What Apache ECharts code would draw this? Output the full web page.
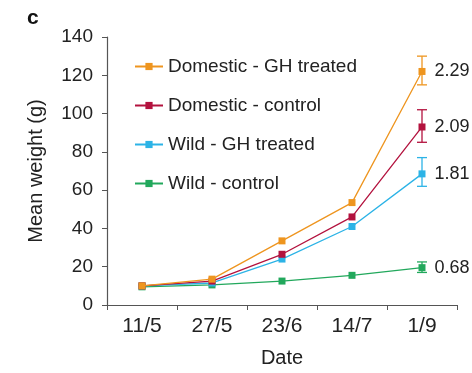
<!DOCTYPE html>
<html>
<head>
<meta charset="utf-8">
<script src="https://cdn.jsdelivr.net/npm/echarts@6/dist/echarts.min.js"></script>
<style>
html,body{margin:0;padding:0;background:#fff;}
#c{width:472px;height:373px;}
</style>
</head>
<body>
<div id="c"></div>
<script>
var categories = ['11/5', '27/5', '23/6', '14/7', '1/9'];
var seriesNames = ['Domestic - GH treated', 'Domestic - control', 'Wild - GH treated', 'Wild - control'];
var domesticGH = [10, 13.5, 33.5, 53.5, 122];
var domesticCtrl = [10, 12.5, 26.5, 46, 93];
var wildGH = [10, 11.5, 24, 41, 68.5];
var wildCtrl = [9.5, 10.5, 12.5, 15.5, 19.5];
var errLow = [[null,null,null,null,115],[null,null,null,null,85],[null,null,null,null,62],[null,null,null,null,17]];
var errHigh = [[null,null,null,null,130],[null,null,null,null,102],[null,null,null,null,77],[null,null,null,null,22.5]];
var ratios = ['2.29', '2.09', '1.81', '0.68'];
var yTicks = [0, 20, 40, 60, 80, 100, 120, 140];

var colors = ['#EE951F', '#B3123E', '#2CB3E6', '#22A85C'];
var allData = [domesticGH, domesticCtrl, wildGH, wildCtrl];

var series = [];
allData.forEach(function (d, i) {
  series.push({
    name: seriesNames[i],
    type: 'line',
    data: d,
    symbol: 'rect',
    symbolSize: 7,
    z: 5 - i,
    lineStyle: { color: colors[i], width: 1.3 },
    itemStyle: { color: colors[i] },
    label: {
      show: true,
      position: 'right',
      distance: 9,
      color: '#222',
      fontSize: 18,
      fontFamily: 'Liberation Sans',
      formatter: function (p) { return p.dataIndex === d.length - 1 ? ratios[i] : ''; }
    },
    emphasis: { disabled: true },
    animation: false
  });
  var ebData = [];
  for (var k = 0; k < categories.length; k++) {
    if (errLow[i][k] != null) ebData.push([k, errLow[i][k], errHigh[i][k]]);
  }
  series.push({
    name: seriesNames[i] + ' err',
    type: 'custom',
    data: ebData,
    z: 4 - i,
    animation: false,
    renderItem: function (params, api) {
      var lo = api.coord([api.value(0), api.value(1)]);
      var hi = api.coord([api.value(0), api.value(2)]);
      var hw = 5;
      var st = { stroke: colors[i], lineWidth: 1.3 };
      return {
        type: 'group',
        children: [
          { type: 'line', shape: { x1: lo[0], y1: lo[1], x2: hi[0], y2: hi[1] }, style: st },
          { type: 'line', shape: { x1: lo[0] - hw, y1: lo[1], x2: lo[0] + hw, y2: lo[1] }, style: st },
          { type: 'line', shape: { x1: hi[0] - hw, y1: hi[1], x2: hi[0] + hw, y2: hi[1] }, style: st }
        ]
      };
    }
  });
});

var chart = echarts.init(document.getElementById('c'));
chart.setOption({
  backgroundColor: '#fff',
  animation: false,
  textStyle: { fontFamily: 'Liberation Sans' },
  title: {
    text: 'c',
    left: 22,
    top: 3,
    textStyle: { fontSize: 21, fontWeight: 'bold', color: '#111', fontFamily: 'Liberation Sans' }
  },
  grid: { left: 107, right: 15, top: 37, bottom: 67 },
  legend: {
    data: seriesNames,
    orient: 'vertical',
    left: 129,
    top: 52,
    itemWidth: 28,
    itemHeight: 9,
    itemGap: 20,
    textStyle: { fontSize: 19, color: '#222', fontFamily: 'Liberation Sans' },
    selectedMode: false
  },
  xAxis: {
    type: 'category',
    data: categories,
    boundaryGap: true,
    name: 'Date',
    nameLocation: 'middle',
    nameGap: 43,
    nameTextStyle: { fontSize: 20, color: '#222' },
    axisLine: { lineStyle: { color: '#555', width: 1.2 } },
    axisTick: { show: true, length: 5, lineStyle: { color: '#555' } },
    axisLabel: { fontSize: 21, color: '#222', margin: 11 }
  },
  yAxis: {
    type: 'value',
    min: yTicks[0],
    max: yTicks[yTicks.length - 1],
    interval: 20,
    name: 'Mean weight (g)',
    nameLocation: 'middle',
    nameGap: 61,
    nameTextStyle: { fontSize: 20, color: '#222' },
    splitLine: { show: false },
    axisLine: { show: true, lineStyle: { color: '#555', width: 1.2 } },
    axisTick: { show: true, length: 5, lineStyle: { color: '#555' } },
    axisLabel: { fontSize: 19, color: '#222', margin: 14 }
  },
  series: series
});
</script>
</body>
</html>
